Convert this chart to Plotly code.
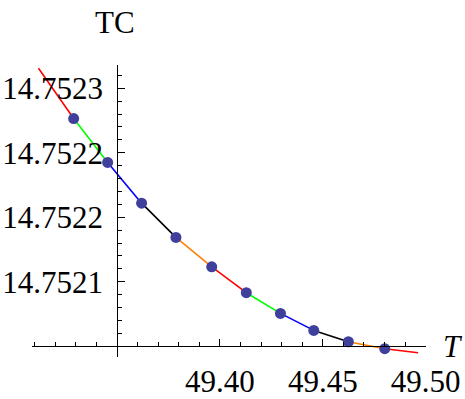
import plotly.graph_objects as go

# Data
T_pts = [49.3289, 49.3454, 49.3619, 49.3786, 49.3960, 49.4128, 49.4294, 49.4456, 49.4624, 49.4801]
TC_pts = [14.7522765, 14.7522425, 14.7522109, 14.7521844, 14.7521616, 14.7521415,
          14.7521255, 14.7521123, 14.7521035, 14.7520981]
T_start, TC_start = 49.3118, 14.7523155
T_end, TC_end = 49.4963, 14.7520950
seg_colors = ["#ff0000", "#00ff00", "#0000ff", "#000000", "#ff8000",
              "#ff0000", "#00ff00", "#0000ff", "#000000", "#ff8000", "#ff0000"]

x_major = [49.40, 49.45, 49.50]
x_major_text = ["49.40", "49.45", "49.50"]
y_major = [14.75215, 14.75220, 14.75225, 14.75230]
y_major_text = ["14.7521", "14.7522", "14.7522", "14.7523"]

x_range = [49.3085, 49.50]
y_range = [14.7520917, 14.752318]
x_origin, y_origin = 49.35, 14.7521
x_dom = [0.0682, 0.9155]
y_dom = [0.1053, 0.8371]

curve_T = [T_start] + T_pts + [T_end]
curve_TC = [TC_start] + TC_pts + [TC_end]

fig = go.Figure()
for i, c in enumerate(seg_colors):
    fig.add_trace(go.Scatter(x=curve_T[i:i + 2], y=curve_TC[i:i + 2], mode="lines",
                             line=dict(color=c, width=1.6), showlegend=False,
                             hoverinfo="skip", cliponaxis=False))
fig.add_trace(go.Scatter(x=T_pts, y=TC_pts, mode="markers",
                         marker=dict(color="#3f3f9c", size=11), showlegend=False,
                         cliponaxis=False))

xpos = y_dom[0] + (y_origin - y_range[0]) / (y_range[1] - y_range[0]) * (y_dom[1] - y_dom[0])
ypos = x_dom[0] + (x_origin - x_range[0]) / (x_range[1] - x_range[0]) * (x_dom[1] - x_dom[0])

font = dict(family="Liberation Serif", size=31, color="black")
fig.update_layout(
    width=465, height=399, margin=dict(l=0, r=0, t=0, b=0),
    paper_bgcolor="white", plot_bgcolor="white",
    xaxis=dict(range=x_range, domain=x_dom, anchor="free", position=xpos, automargin=False,
               showgrid=False, zeroline=False, showline=True, linecolor="black", linewidth=1,
               tickvals=x_major, ticktext=x_major_text, ticks="inside", ticklen=7,
               tickcolor="black", tickfont=font, ticklabelstandoff=8,
               minor=dict(dtick=0.01, tick0=49.30, ticks="inside", ticklen=4,
                          tickcolor="black", showgrid=False)),
    yaxis=dict(range=y_range, domain=y_dom, anchor="free", position=ypos, automargin=False,
               showgrid=False, zeroline=False, showline=True, linecolor="black", linewidth=1,
               tickvals=y_major, ticktext=y_major_text, ticks="inside", ticklen=7,
               tickcolor="black", tickfont=font, ticklabelstandoff=8,
               minor=dict(dtick=0.00001, tick0=14.75210, ticks="inside", ticklen=4,
                          tickcolor="black", showgrid=False)),
    annotations=[
        dict(text="TC", xref="paper", yref="paper", x=115 / 465, y=1 - 22 / 399,
             showarrow=False, font=font, xanchor="center", yanchor="middle"),
        dict(text="<i>T</i>", xref="paper", yref="paper", x=453 / 465, y=1 - 346 / 399,
             showarrow=False, font=font, xanchor="center", yanchor="middle"),
    ],
)
fig.write_html("out.html")
